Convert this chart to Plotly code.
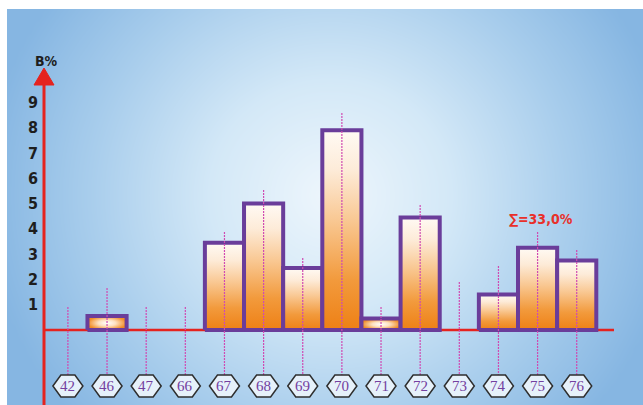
import numpy as np
import plotly.graph_objects as go

# ---- data -------------------------------------------------------------
categories = ["42", "46", "47", "66", "67", "68", "69", "70", "71", "72", "73", "74", "75", "76"]
values = [0, 0.55, 0, 0, 3.45, 5.0, 2.45, 7.9, 0.45, 4.45, 0, 1.4, 3.25, 2.75]   # B, %
guide_tops = [0.91, 1.66, 0.91, 0.91, 3.87, 5.53, 2.85, 8.58, 0.91, 4.94, 1.9, 2.53, 3.87, 3.16]
y_ticks = [1, 2, 3, 4, 5, 6, 7, 8, 9]
total_label = "∑=33,0%"
y_title = "B%"

# ---- geometry of the canvas -------------------------------------------
W, H = 643, 405
PL, PR, PT, PB = 7, 643, 9, 405          # blue panel (plot area) in pixels
PX_X, X0_PX = 39.14, 67.9                 # pixels per category, centre of first category
PX_Y, BASE_PX = 25.3, 330                 # pixels per percent, baseline row

x_min = -(X0_PX - PL) / PX_X
x_max = x_min + (PR - PL) / PX_X
y_min = -(PB - BASE_PX) / PX_Y
y_max = (BASE_PX - PT) / PX_Y

axis_x = (44 - X0_PX) / PX_X              # red vertical axis
base_end = (614 - X0_PX) / PX_X           # right end of baseline
arrow_tip = (BASE_PX - 68) / PX_Y
arrow_base = (BASE_PX - 85) / PX_Y
arrow_half = 10 / PX_X
hex_top = (BASE_PX - 375) / PX_Y
hex_mid = (BASE_PX - 386) / PX_Y

RED = "#e5231f"
PURPLE = "#6a3d9a"
GUIDE = "#d04ab2"

fig = go.Figure()

# soft radial background
gx = np.linspace(x_min, x_max, 80)
gy = np.linspace(y_min, y_max, 50)
GX, GY = np.meshgrid(gx, gy)
px_ = X0_PX + GX * PX_X
py_ = BASE_PX - GY * PX_Y
dist = np.sqrt(((px_ - 330) / 345) ** 2 + ((py_ - 195) / 330) ** 2)
dist = np.clip(dist, 0, 1)
fig.add_trace(go.Heatmap(
    x=gx, y=gy, z=dist, zmin=0, zmax=1, zsmooth="best", showscale=False,
    colorscale=[[0, "#eef6fc"], [0.35, "#d3e8f7"], [0.7, "#a8cdec"], [1, "#86b6e2"]],
    hoverinfo="skip"))

# baseline and vertical axis with arrow
fig.add_trace(go.Scatter(x=[axis_x, base_end], y=[0, 0], mode="lines",
                         line=dict(color=RED, width=2.5), hoverinfo="skip"))
fig.add_trace(go.Scatter(x=[axis_x, axis_x], y=[y_min, arrow_base], mode="lines",
                         line=dict(color=RED, width=3), hoverinfo="skip"))
fig.add_trace(go.Scatter(
    x=[axis_x - arrow_half, axis_x, axis_x + arrow_half, axis_x - arrow_half],
    y=[arrow_base, arrow_tip, arrow_base, arrow_base],
    mode="lines", fill="toself", fillcolor=RED, line=dict(color=RED, width=1),
    hoverinfo="skip"))

# bars with orange-to-white gradient
bar_scale = [[0, "#ee8015"], [0.25, "#f29a3c"], [0.55, "#f9c893"], [0.8, "#fdebd8"], [1, "#fffaf4"]]
radial_scale = [[0, "#ffffff"], [0.45, "#fde0c0"], [1, "#f08a22"]]
for i, v in enumerate(values):
    if v <= 0:
        continue
    grad = (dict(type="radial", colorscale=radial_scale) if v < 1
            else dict(type="vertical", colorscale=bar_scale))
    fig.add_trace(go.Scatter(
        x=[i - 0.5, i - 0.5, i + 0.5, i + 0.5, i - 0.5],
        y=[0, v, v, 0, 0],
        mode="lines", fill="toself", fillgradient=grad,
        line=dict(color=PURPLE, width=4), hoverinfo="skip"))

# dotted guides from each category marker up past the bar
gx_line, gy_line = [], []
for i, top in enumerate(guide_tops):
    gx_line += [i, i, None]
    gy_line += [top, hex_top, None]
fig.add_trace(go.Scatter(x=gx_line, y=gy_line, mode="lines",
                         line=dict(color=GUIDE, width=1.2, dash="2px,1px"),
                         hoverinfo="skip"))

# hexagon category markers
shapes = []
annotations = []
for i, lab in enumerate(categories):
    shapes.append(dict(
        type="path", xref="x", yref="y", xsizemode="pixel", ysizemode="pixel",
        xanchor=i, yanchor=hex_mid,
        path="M-15,0 L-7,11 L7,11 L15,0 L7,-11 L-7,-11 Z",
        fillcolor="#e6f1fa", line=dict(color="#2e2e2e", width=1.5)))
    annotations.append(dict(
        x=i, y=hex_mid, text=lab, showarrow=False, xref="x", yref="y",
        font=dict(family="Liberation Serif, Times New Roman, serif", size=15, color="#7340a0")))

cond_font = "Liberation Sans Narrow, Arial Narrow, DejaVu Sans Condensed, Arial, sans-serif"
annotations.append(dict(
    x=(46.5 - X0_PX) / PX_X, y=(BASE_PX - 60.5) / PX_Y, text="<b>%s</b>" % y_title,
    showarrow=False, font=dict(family=cond_font, size=14, color="#1e1e1e")))
annotations.append(dict(
    x=12.1, y=4.4, text="<b>%s</b>" % total_label, showarrow=False,
    font=dict(family=cond_font, size=14, color="#e8302a")))

fig.update_layout(
    width=W, height=H,
    margin=dict(l=0, r=0, t=0, b=0),
    paper_bgcolor="white", plot_bgcolor="#8ab9e2",
    showlegend=False, hovermode=False,
    shapes=shapes, annotations=annotations,
    xaxis=dict(domain=[PL / W, PR / W], range=[x_min, x_max], visible=False, fixedrange=True),
    yaxis=dict(domain=[0, (H - PT) / H], range=[y_min, y_max],
               anchor="free", position=44 / W,
               tickvals=y_ticks, ticktext=["<b>%d</b>" % t for t in y_ticks],
               ticks="", showgrid=False, zeroline=False, showline=False,
               ticklabelstandoff=6,
               tickfont=dict(family=cond_font, size=16, color="#1e1e1e"),
               fixedrange=True),
)

fig.write_html("out.html")
